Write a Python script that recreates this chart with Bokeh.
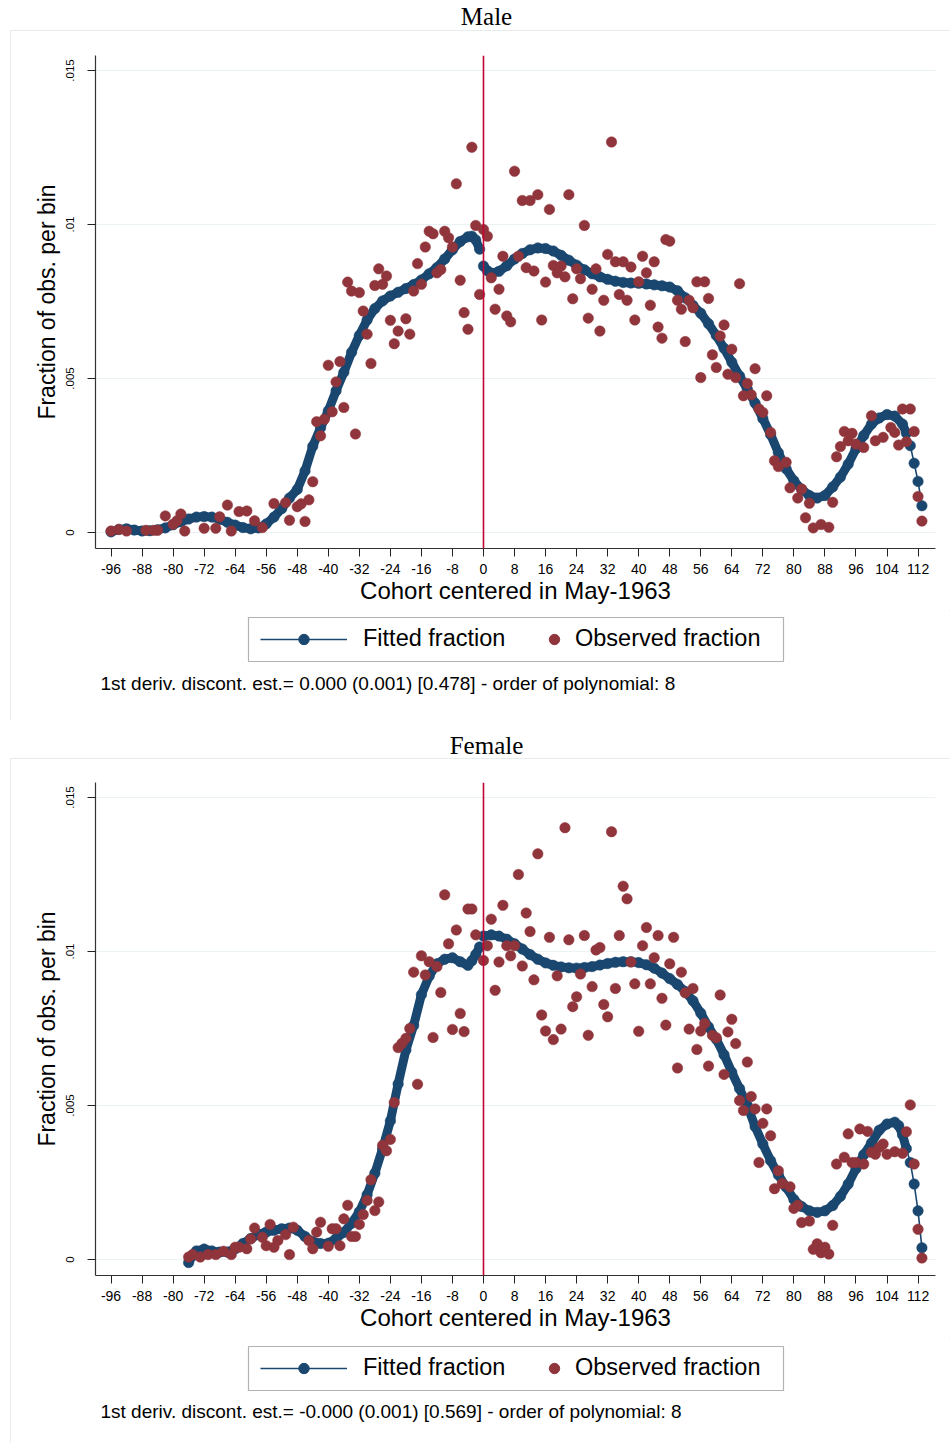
from bokeh.plotting import figure
from bokeh.models import FixedTicker, Span, Label, Legend, LegendItem, BoxAnnotation
from bokeh.layouts import column
from bokeh.embed import file_html
from bokeh.resources import INLINE

# ---------------- data ----------------
x_ticks = [-96, -88, -80, -72, -64, -56, -48, -40, -32, -24, -16, -8, 0,
           8, 16, 24, 32, 40, 48, 56, 64, 72, 80, 88, 96, 104, 112]
x_tick_labels = ["-96", "-88", "-80", "-72", "-64", "-56", "-48", "-40", "-32", "-24",
                 "-16", "-8", "0", "8", "16", "24", "32", "40", "48", "56", "64", "72",
                 "80", "88", "96", "104", "112"]
y_ticks = [0, 0.005, 0.01, 0.015]
y_tick_labels = ["0", ".005", ".01", ".015"]

titles = ["Male", "Female"]
notes = ["1st deriv. discont. est.= 0.000 (0.001) [0.478] - order of polynomial: 8",
         "1st deriv. discont. est.= -0.000 (0.001) [0.569] - order of polynomial: 8"]
legend_labels = ["Fitted fraction", "Observed fraction"]
x_title = "Cohort centered in May-1963"
y_title = "Fraction of obs. per bin"
cutoff = 0

male_fit_month = [-96, -94, -92, -90, -88, -86, -84, -82, -80, -78,
                  -76, -74, -72, -70, -68, -66, -64, -62, -60, -58,
                  -56, -54, -52, -50, -48, -46, -44, -42, -40, -38,
                  -36, -34, -32, -30, -28, -26, -24, -22, -20, -18,
                  -16, -14, -12, -10, -8, -6, -4, -3, -2, -1,
                  0, 1, 2, 4, 6, 8, 10, 12, 14, 16,
                  18, 20, 22, 24, 26, 28, 30, 32, 34, 36,
                  38, 40, 42, 44, 46, 48, 50, 52, 54, 56,
                  58, 60, 62, 64, 66, 68, 70, 72, 74, 76,
                  78, 80, 82, 84, 86, 88, 90, 92, 94, 96,
                  98, 100, 102, 104, 106, 108, 109, 110, 111, 112,
                  113]
male_fit_value = [0.00002, 0.00010, 0.00012, 0.00008, 0.00005, 0.00006, 0.00009, 0.00015, 0.00025, 0.00035,
                  0.00044, 0.00050, 0.00052, 0.00050, 0.00043, 0.00033, 0.00024, 0.00016, 0.00012, 0.00015,
                  0.00028, 0.00050, 0.00078, 0.00112, 0.00140, 0.00200, 0.00280, 0.00340, 0.00395, 0.00460,
                  0.00520, 0.00585, 0.00640, 0.00690, 0.00727, 0.00752, 0.00768, 0.00780, 0.00792, 0.00805,
                  0.00820, 0.00840, 0.00860, 0.00888, 0.00918, 0.00945, 0.00960, 0.00962, 0.00950, 0.00920,
                  0.00865, 0.00850, 0.00842, 0.00848, 0.00866, 0.00888, 0.00906, 0.00918, 0.00924, 0.00922,
                  0.00914, 0.00900, 0.00884, 0.00868, 0.00853, 0.00840, 0.00830, 0.00822, 0.00816, 0.00812,
                  0.00810, 0.00809, 0.00807, 0.00804, 0.00801, 0.00797, 0.00785, 0.00762, 0.00737, 0.00712,
                  0.00678, 0.00640, 0.00598, 0.00553, 0.00508, 0.00465, 0.00420, 0.00370, 0.00318, 0.00259,
                  0.00207, 0.00168, 0.00140, 0.00120, 0.00112, 0.00120, 0.00148, 0.00180, 0.00222, 0.00272,
                  0.00315, 0.00352, 0.00372, 0.00383, 0.00378, 0.00352, 0.00322, 0.00282, 0.00225, 0.00166,
                  0.00087]

male_obs_month = [-96, -94, -92, -87, -85, -84, -82, -80, -79, -78,
                  -77, -72, -69, -68, -66, -65, -63, -61, -59, -57,
                  -54, -51, -50, -48, -47, -46, -45, -44, -43, -42,
                  -41, -40, -39, -38, -37, -36, -35, -34, -33, -32,
                  -31, -30, -29, -28, -27, -26, -25, -24, -23, -22,
                  -20, -19, -18, -17, -16, -15, -14, -13, -12, -11,
                  -10, -9, -8, -7, -6, -5, -4, -3, -2, -1,
                  0, 1, 2, 3, 4, 5, 6, 7, 8, 9,
                  10, 11, 12, 13, 14, 15, 16, 17, 18, 19,
                  20, 21, 22, 23, 24, 25, 26, 27, 28, 29,
                  30, 31, 32, 33, 34, 35, 36, 37, 38, 39,
                  40, 41, 42, 43, 44, 45, 46, 47, 48, 50,
                  51, 52, 53, 54, 55, 56, 57, 58, 59, 60,
                  61, 62, 63, 64, 65, 66, 67, 68, 69, 70,
                  71, 72, 73, 74, 75, 76, 78, 79, 81, 82,
                  83, 84, 85, 87, 89, 90, 91, 92, 93, 94,
                  95, 96, 98, 100, 101, 103, 105, 106, 107, 108,
                  109, 110, 111, 112, 113]
male_obs_value = [0.00005, 0.00010, 0.00005, 0.00007, 0.00007, 0.00007, 0.00054, 0.00027, 0.00038, 0.00060,
                  0.00005, 0.00014, 0.00014, 0.00051, 0.00089, 0.00005, 0.00068, 0.00070, 0.00038, 0.00016,
                  0.00094, 0.00097, 0.00040, 0.00084, 0.00093, 0.00036, 0.00106, 0.00165, 0.00360, 0.00314,
                  0.00368, 0.00543, 0.00392, 0.00489, 0.00555, 0.00406, 0.00813, 0.00784, 0.00320, 0.00779,
                  0.00719, 0.00644, 0.00549, 0.00802, 0.00856, 0.00806, 0.00833, 0.00689, 0.00613, 0.00654,
                  0.00694, 0.00644, 0.00784, 0.00873, 0.00806, 0.00927, 0.00978, 0.00970, 0.00843, 0.00854,
                  0.00978, 0.00957, 0.00927, 0.01132, 0.00819, 0.00714, 0.00660, 0.01251, 0.00997, 0.00773,
                  0.00984, 0.00962, 0.00827, 0.00725, 0.00790, 0.00897, 0.00703, 0.00684, 0.01173, 0.00897,
                  0.01078, 0.00860, 0.01078, 0.00849, 0.01097, 0.00690, 0.00813, 0.01049, 0.00867, 0.00843,
                  0.00865, 0.00830, 0.01097, 0.00759, 0.00856, 0.00824, 0.00997, 0.00696, 0.00790, 0.00856,
                  0.00654, 0.00754, 0.00903, 0.01268, 0.00879, 0.00773, 0.00879, 0.00754, 0.00862, 0.00690,
                  0.00814, 0.00897, 0.00843, 0.00738, 0.00879, 0.00667, 0.00631, 0.00951, 0.00946, 0.00754,
                  0.00725, 0.00620, 0.00754, 0.00730, 0.00814, 0.00503, 0.00814, 0.00760, 0.00577, 0.00536,
                  0.00638, 0.00674, 0.00514, 0.00595, 0.00503, 0.00808, 0.00444, 0.00484, 0.00447, 0.00532,
                  0.00401, 0.00390, 0.00444, 0.00325, 0.00233, 0.00214, 0.00228, 0.00145, 0.00112, 0.00141,
                  0.00048, 0.00095, 0.00015, 0.00026, 0.00017, 0.00098, 0.00246, 0.00279, 0.00328, 0.00298,
                  0.00322, 0.00287, 0.00276, 0.00379, 0.00298, 0.00309, 0.00341, 0.00325, 0.00284, 0.00401,
                  0.00295, 0.00401, 0.00328, 0.00117, 0.00037]

female_fit_month = [-76, -75, -74, -72, -70, -68, -66, -64, -62, -60,
                    -58, -56, -54, -52, -50, -48, -46, -44, -42, -40,
                    -38, -36, -34, -32, -30, -28, -26, -24, -22, -20,
                    -18, -16, -14, -12, -10, -8, -6, -4, -3, -2,
                    -1,
                    0, 2, 4, 6, 8, 10, 12, 14, 16, 18,
                    20, 22, 24, 26, 28, 30, 32, 34, 36, 38,
                    40, 42, 44, 46, 48, 50, 52, 54, 56, 58,
                    60, 62, 64, 66, 68, 70, 72, 74, 76, 78,
                    80, 82, 84, 86, 88, 90, 92, 94, 96, 98,
                    100, 102, 104, 106, 107, 108, 109, 110, 111, 112,
                    113]
female_fit_value = [-0.00010, 0.00012, 0.00028, 0.00034, 0.00028, 0.00024, 0.00024, 0.00035, 0.00052, 0.00068,
                    0.00082, 0.00089, 0.00095, 0.00100, 0.00102, 0.00095, 0.00075, 0.00058, 0.00052, 0.00053,
                    0.00068, 0.00088, 0.00118, 0.00155, 0.00210, 0.00280, 0.00360, 0.00450, 0.00570, 0.00680,
                    0.00760, 0.00860, 0.00920, 0.00960, 0.00975, 0.00980, 0.00967, 0.00955, 0.00970, 0.00990,
                    0.01015,
                    0.01050, 0.01054, 0.01050, 0.01040, 0.01025, 0.01008, 0.00990, 0.00975, 0.00963, 0.00955,
                    0.00950, 0.00947, 0.00946, 0.00948, 0.00951, 0.00956, 0.00961, 0.00965, 0.00967, 0.00967,
                    0.00964, 0.00957, 0.00946, 0.00930, 0.00912, 0.00893, 0.00870, 0.00840, 0.00800, 0.00755,
                    0.00715, 0.00665, 0.00608, 0.00555, 0.00500, 0.00432, 0.00375, 0.00321, 0.00275, 0.00235,
                    0.00195, 0.00172, 0.00158, 0.00153, 0.00158, 0.00175, 0.00205, 0.00245, 0.00295, 0.00340,
                    0.00378, 0.00420, 0.00440, 0.00446, 0.00435, 0.00405, 0.00360, 0.00315, 0.00245, 0.00158,
                    0.00038]

female_obs_month = [-76, -75, -73, -71, -69, -67, -65, -64, -63, -61,
                    -60, -59, -57, -56, -55, -54, -53, -51, -50, -49,
                    -45, -44, -43, -42, -40, -39, -38, -37, -36, -35,
                    -34, -33, -32, -31, -30, -29, -28, -27, -26, -25,
                    -24, -23, -22, -21, -20, -19, -18, -17, -16, -15,
                    -14, -13, -12, -11, -10, -9, -8, -7, -6, -5,
                    -4, -3, -2, 0, 1, 2, 3, 4, 5, 6,
                    7, 8, 9, 10, 11, 12, 13, 14, 15, 16,
                    17, 18, 19, 20, 21, 22, 23, 24, 25, 26,
                    27, 28, 29, 30, 31, 32, 33, 34, 35, 36,
                    37, 38, 39, 40, 41, 42, 43, 44, 45, 46,
                    47, 48, 49, 50, 51, 52, 53, 54, 55, 56,
                    57, 58, 59, 60, 61, 62, 63, 64, 65, 66,
                    67, 68, 69, 70, 71, 72, 73, 74, 75, 76,
                    77, 79, 80, 81, 82, 84, 85, 86, 87, 88,
                    89, 90, 91, 93, 94, 95, 96, 97, 98, 99,
                    100, 101, 102, 103, 104, 106, 108, 109, 110, 111,
                    112, 113]
female_obs_value = [0.00008, 0.00016, 0.00008, 0.00016, 0.00016, 0.00027, 0.00016, 0.00040, 0.00040, 0.00035,
                    0.00067, 0.00102, 0.00072, 0.00045, 0.00114, 0.00040, 0.00062, 0.00081, 0.00016, 0.00105,
                    0.00062, 0.00035, 0.00089, 0.00121, 0.00043, 0.00100, 0.00100, 0.00045, 0.00132, 0.00176,
                    0.00075, 0.00075, 0.00114, 0.00146, 0.00192, 0.00259, 0.00159, 0.00187, 0.00371, 0.00353,
                    0.00390, 0.00510, 0.00688, 0.00702, 0.00718, 0.00750, 0.00933, 0.00569, 0.00986, 0.00924,
                    0.00967, 0.00721, 0.00951, 0.00867, 0.01184, 0.01025, 0.00747, 0.01070, 0.00799, 0.00740,
                    0.01138, 0.01138, 0.01054, 0.00971, 0.01019, 0.01105, 0.00874, 0.00966, 0.01150, 0.01019,
                    0.00986, 0.01019, 0.01250, 0.00953, 0.01125, 0.01065, 0.00908, 0.01317, 0.00794, 0.00742,
                    0.01046, 0.00714, 0.00921, 0.00748, 0.01402, 0.01038, 0.00821, 0.00853, 0.00927, 0.01052,
                    0.00728, 0.00886, 0.01005, 0.01013, 0.00828, 0.00788, 0.01389, 0.00880, 0.01052, 0.01212,
                    0.01171, 0.00966, 0.00895, 0.00741, 0.01019, 0.01078, 0.00895, 0.00980, 0.01052, 0.00848,
                    0.00761, 0.00960, 0.01046, 0.00622, 0.00933, 0.00866, 0.00748, 0.00880, 0.00682, 0.00742,
                    0.00766, 0.00628, 0.00728, 0.00720, 0.00859, 0.00601, 0.00739, 0.00780, 0.00701, 0.00516,
                    0.00484, 0.00641, 0.00529, 0.00489, 0.00315, 0.00442, 0.00489, 0.00402, 0.00230, 0.00288,
                    0.00247, 0.00236, 0.00166, 0.00176, 0.00120, 0.00125, 0.00033, 0.00051, 0.00022, 0.00040,
                    0.00018, 0.00111, 0.00310, 0.00332, 0.00408, 0.00315, 0.00315, 0.00424, 0.00310, 0.00416,
                    0.00348, 0.00342, 0.00364, 0.00375, 0.00342, 0.00350, 0.00345, 0.00415, 0.00502, 0.00310,
                    0.00098, 0.00005]

# ---------------- style ----------------
NAVY = "#1a476f"
MAROON = "#90353b"
CRANBERRY = "#c10534"
SANS = "Liberation Sans"
SERIF = "Liberation Serif"
BOX = "#dfe6e9"
LEFT, RIGHT = 85, 15
NAN = float("nan")


def blank_fig(height):
    f = figure(width=940, height=height, x_range=(0, 1), y_range=(0, 1),
               x_axis_type=None, y_axis_type=None, output_backend="svg",
               toolbar_location=None, min_border_left=LEFT, min_border_right=RIGHT,
               min_border_top=0, min_border_bottom=0)
    f.outline_line_color = None
    f.grid.visible = False
    f.background_fill_color = "white"
    f.border_fill_color = "white"
    return f


def make_title(text, height, y_from_bottom):
    t = blank_fig(height)
    t.margin = (0, 0, 0, 10)
    t.add_layout(Label(x=391, y=y_from_bottom, x_units="screen", y_units="screen", text=text,
                       text_align="center", text_baseline="middle", text_font=SERIF,
                       text_font_size="25px", text_color="black"))
    return t


def make_main(fit_m, fit_v, obs_m, obs_v, border_top):
    p = figure(width=940, height=border_top + 493 + 62, x_range=(-100, 116.5),
               y_range=(-0.000519, 0.015487),
               output_backend="svg", toolbar_location=None,
               min_border_left=LEFT, min_border_right=RIGHT, min_border_top=border_top,
               min_border_bottom=62)
    p.outline_line_color = None
    p.background_fill_color = "white"
    p.border_fill_color = "white"
    p.xgrid.visible = False
    p.ygrid.grid_line_color = "#eaf2f3"
    p.ygrid.grid_line_width = 1.2

    xa = p.xaxis[0]
    xa.ticker = FixedTicker(ticks=x_ticks)
    xa.major_label_overrides = dict(zip(x_ticks, x_tick_labels))
    xa.minor_tick_line_color = None
    xa.major_tick_out = 8
    xa.major_tick_in = 0
    xa.axis_line_color = "#333333"
    xa.axis_line_width = 1.2
    xa.major_tick_line_color = "#222222"
    xa.major_label_text_font = SANS
    xa.major_label_text_font_size = "14px"
    xa.major_label_text_color = "black"
    xa.major_label_standoff = 7
    xa.axis_label = x_title
    xa.axis_label_text_font = SANS
    xa.axis_label_text_font_size = "24px"
    xa.axis_label_text_font_style = "normal"
    xa.axis_label_text_color = "black"
    xa.axis_label_standoff = 0

    ya = p.yaxis[0]
    ya.ticker = FixedTicker(ticks=y_ticks)
    ya.major_label_overrides = dict(zip(y_ticks, y_tick_labels))
    ya.minor_tick_line_color = None
    ya.major_tick_out = 8
    ya.major_tick_in = 0
    ya.axis_line_color = "#333333"
    ya.axis_line_width = 1.2
    ya.major_tick_line_color = "#222222"
    ya.major_label_orientation = "vertical"
    ya.major_label_text_font = SANS
    ya.major_label_text_font_size = "11.5px"
    ya.major_label_text_color = "black"
    ya.major_label_standoff = 13
    ya.axis_label = y_title
    ya.axis_label_text_font = SANS
    ya.axis_label_text_font_size = "23px"
    ya.axis_label_text_font_style = "normal"
    ya.axis_label_text_color = "black"
    ya.axis_label_standoff = 4

    # fitted fraction (two polynomial pieces): band + thin connector + markers
    lm = [m for m in fit_m if m < cutoff]
    lv = [v for m, v in zip(fit_m, fit_v) if m < cutoff]
    rm = [m for m in fit_m if m >= cutoff]
    rv = [v for m, v in zip(fit_m, fit_v) if m >= cutoff]
    bm = [m for m in rm if m < 110]
    bv = [v for m, v in zip(rm, rv) if m < 110]
    p.line(lm, lv, line_color=NAVY, line_width=9, line_join="round", line_cap="round")
    p.line(bm, bv, line_color=NAVY, line_width=9, line_join="round", line_cap="round")
    p.line(lm, lv, line_color=NAVY, line_width=1.6)
    p.line(rm, rv, line_color=NAVY, line_width=1.6)
    p.scatter(fit_m, fit_v, size=10.5, fill_color=NAVY, line_color=NAVY, line_width=0.5)

    # observed fraction
    p.scatter(obs_m, obs_v, size=10.5, fill_color=MAROON, line_color=MAROON, line_width=0.5)

    # cutoff line
    p.add_layout(Span(location=cutoff, dimension="height", line_color=CRANBERRY, line_width=1.6))
    return p


def make_legend_fig(note, height, box_bottom, note_y):
    f = blank_fig(height)
    # legend keys only (a single missing value: nothing is plotted)
    kl = f.line([NAN], [NAN], line_color=NAVY, line_width=1.6)
    ks = f.scatter([NAN], [NAN], size=10.5, fill_color=NAVY, line_color=NAVY)
    ko = f.scatter([NAN], [NAN], size=10.5, fill_color=MAROON, line_color=MAROON)
    item_h = 26
    yb = box_bottom + 22 - item_h / 2
    common = dict(orientation="horizontal", glyph_height=item_h, label_height=item_h,
                  padding=0, margin=0, border_line_color=None, background_fill_alpha=0,
                  label_text_font=SANS, label_text_font_size="23.5px",
                  label_text_color="black", label_text_baseline="middle")
    f.add_layout(Legend(items=[LegendItem(label=legend_labels[0], renderers=[kl, ks])],
                        location=(165, yb), glyph_width=87, label_standoff=16, **common))
    f.add_layout(Legend(items=[LegendItem(label=legend_labels[1], renderers=[ko])],
                        location=(446, yb), glyph_width=26, label_standoff=8, **common))
    f.add_layout(BoxAnnotation(left=153, right=688, bottom=box_bottom, top=box_bottom + 44,
                               left_units="screen", right_units="screen",
                               top_units="screen", bottom_units="screen",
                               fill_alpha=0, line_color="black", line_width=1.2))
    f.add_layout(Label(x=5, y=note_y, x_units="screen", y_units="screen", text=note,
                       text_align="left", text_baseline="middle", text_font=SANS,
                       text_font_size="19px", text_color="black"))
    return f


def make_panel(idx, fit_m, fit_v, obs_m, obs_v, title_h, title_y, border_top, leg_h, box_bottom, note_y):
    t = make_title(titles[idx], title_h, title_y)
    p = make_main(fit_m, fit_v, obs_m, obs_v, border_top)
    lf = make_legend_fig(notes[idx], leg_h, box_bottom, note_y)
    region = column(p, lf, spacing=0, margin=(0, 0, 0, 10),
                    styles={"outline": "1px solid " + BOX, "outline-offset": "-1px"})
    return [t, region]


male = make_panel(0, male_fit_month, male_fit_value, male_obs_month, male_obs_value,
                  30, 14, 25, 110, 59, 37)
female = make_panel(1, female_fit_month, female_fit_value, female_obs_month, female_obs_value,
                    38, 13, 24, 106, 53, 32)

layout = column(*male, *female, spacing=0)
open("out.html", "w").write(file_html(layout, INLINE))
